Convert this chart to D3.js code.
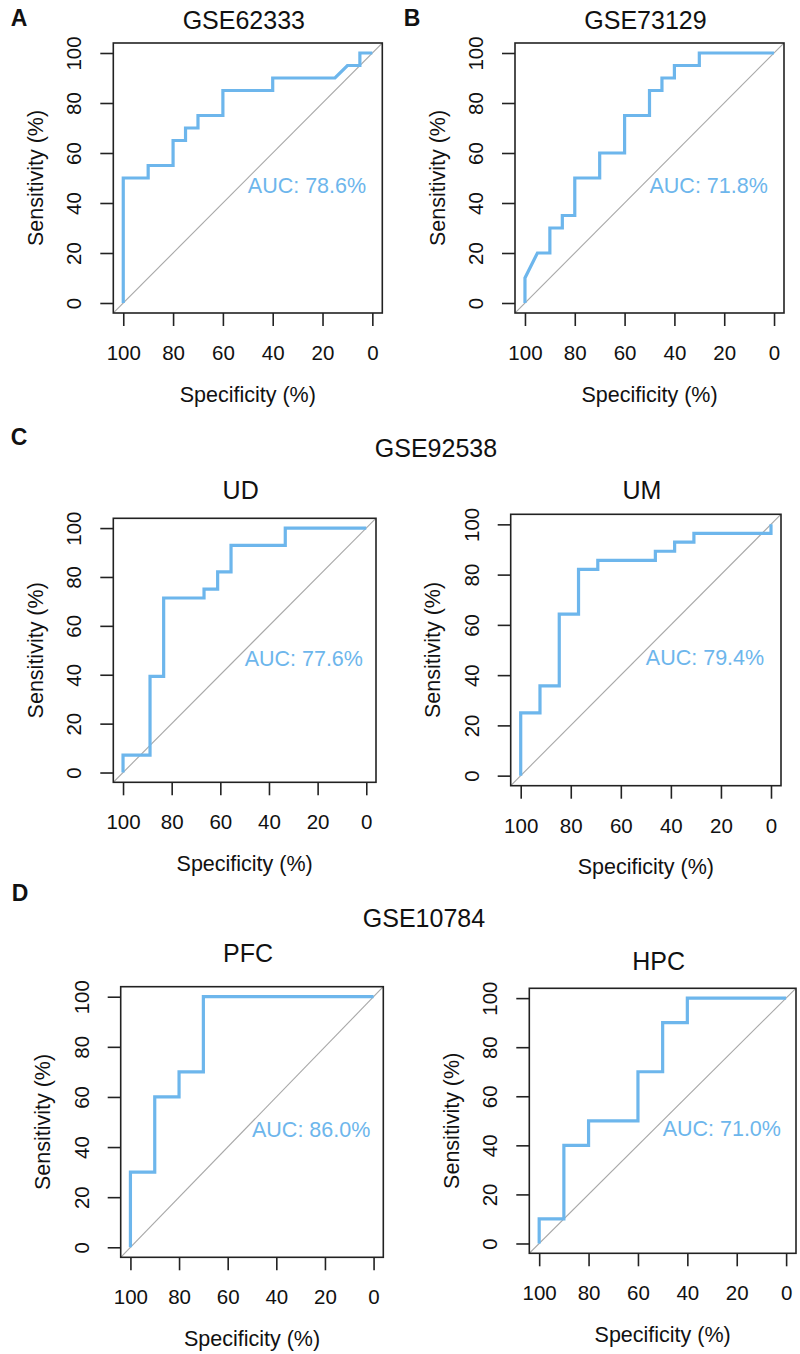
<!DOCTYPE html>
<html>
<head>
<meta charset="utf-8">
<script src="https://cdn.jsdelivr.net/npm/d3@7"></script>
<style>
  html, body { margin: 0; padding: 0; background: #ffffff; }
  svg { display: block; }
  text { font-family: "Liberation Sans", Arial, Helvetica, sans-serif; fill: #111; }
</style>
</head>
<body>
<svg id="chart" width="800" height="1354"></svg>
<script>
// ---------------- data ----------------
const panelTitles = ["GSE62333", "GSE73129", "UD", "UM", "PFC", "HPC"];
const panelLetters = ["A", "B", "C", "D"];
const groupTitles = ["GSE92538", "GSE10784"];
const aucLabels = ["AUC: 78.6%", "AUC: 71.8%", "AUC: 77.6%", "AUC: 79.4%", "AUC: 86.0%", "AUC: 71.0%"];
const xTicks = [100, 80, 60, 40, 20, 0];
const yTicks = [0, 20, 40, 60, 80, 100];
const xLabel = "Specificity (%)";
const yLabel = "Sensitivity (%)";

// ROC points: [specificity, sensitivity]
const rocGSE62333 = [[100,0],[100,50],[90,50],[90,55],[80,55],[80,65],[75,65],[75,70],[70,70],[70,75],[60,75],[60,85],[40,85],[40,90],[15,90],[10,95],[5,95],[5,100],[0,100]];
const rocGSE73129 = [[100,0],[100,10],[95,20],[90,20],[90,30],[85,30],[85,35],[80,35],[80,50],[70,50],[70,60],[60,60],[60,75],[50,75],[50,85],[45,85],[45,90],[40,90],[40,95],[30,95],[30,100],[0,100]];
const rocUD = [[100,0],[100,7.1],[88.9,7.1],[88.9,39.3],[83.3,39.3],[83.3,71.4],[66.7,71.4],[66.7,75],[61.1,75],[61.1,82.1],[55.6,82.1],[55.6,92.9],[33.3,92.9],[33.3,100],[0,100]];
const rocUM = [[100,0],[100,25],[92.3,25],[92.3,35.7],[84.6,35.7],[84.6,64.3],[76.9,64.3],[76.9,82.1],[69.2,82.1],[69.2,85.7],[46.2,85.7],[46.2,89.3],[38.5,89.3],[38.5,92.9],[30.8,92.9],[30.8,96.4],[0,96.4],[0,100]];
const rocPFC = [[100,0],[100,30],[90,30],[90,60],[80,60],[80,70],[70,70],[70,100],[0,100]];
const rocHPC = [[100,0],[100,10],[90,10],[90,40],[80,40],[80,50],[60,50],[60,70],[50,70],[50,90],[40,90],[40,100],[0,100]];
const rocSeries = [rocGSE62333, rocGSE73129, rocUD, rocUM, rocPFC, rocHPC];

// ---------------- layout (pixels) ----------------
const layout = [
  {x0:113.3, x1:382.3, y0:43,    y1:313,    titleY:20},
  {x0:515,   x1:784,   y0:43,    y1:313,    titleY:20},
  {x0:113.3, x1:376,   y0:518.3, y1:782.3,  titleY:490},
  {x0:510.7, x1:781,   y0:514.3, y1:785.7,  titleY:490},
  {x0:120.7, x1:383.3, y0:986.7, y1:1257.3, titleY:953},
  {x0:529.3, x1:796,   y0:988.3, y1:1253.3, titleY:961}
];
const letterPos = [[19,18],[412,18],[19,437],[20,893]];
const groupPos = [[436,448],[424,918]];

const lineColor = "#6db6ec";
const svg = d3.select("#chart");

layout.forEach((L, i) => {
  const x = d3.scaleLinear().domain([104, -4]).range([L.x0, L.x1]);
  const y = d3.scaleLinear().domain([-4, 104]).range([L.y1, L.y0]);
  const g = svg.append("g");
  const clipId = "clip" + i;
  svg.append("clipPath").attr("id", clipId).append("rect")
    .attr("x", L.x0).attr("y", L.y0).attr("width", L.x1 - L.x0).attr("height", L.y1 - L.y0);

  // diagonal reference
  g.append("line")
    .attr("clip-path", `url(#${clipId})`)
    .attr("x1", x(104)).attr("y1", y(-4)).attr("x2", x(-4)).attr("y2", y(104))
    .attr("stroke", "#a8a8a8").attr("stroke-width", 1.1);

  // ROC curve
  const line = d3.line().x(d => x(d[0])).y(d => y(d[1]));
  g.append("path").datum(rocSeries[i])
    .attr("d", line)
    .attr("fill", "none").attr("stroke", lineColor)
    .attr("stroke-width", 3.2).attr("stroke-linejoin", "miter").attr("stroke-linecap", "butt");

  // box
  g.append("rect")
    .attr("x", L.x0).attr("y", L.y0).attr("width", L.x1 - L.x0).attr("height", L.y1 - L.y0)
    .attr("fill", "none").attr("stroke", "#222").attr("stroke-width", 1.6);

  // x axis
  const xa = g.append("g").attr("transform", `translate(0,${L.y1})`)
    .call(d3.axisBottom(x).tickValues(xTicks).tickSize(13).tickFormat(d3.format("d")));
  xa.select(".domain").remove();
  xa.selectAll(".tick line").attr("stroke", "#222").attr("stroke-width", 1.6);
  xa.selectAll(".tick text").attr("y", 40).attr("dy", "0.35em")
    .style("font-size", "20.5px").style("fill", "#111");

  // y axis
  const ya = g.append("g").attr("transform", `translate(${L.x0},0)`)
    .call(d3.axisLeft(y).tickValues(yTicks).tickSize(13).tickFormat(d3.format("d")));
  ya.select(".domain").remove();
  ya.selectAll(".tick line").attr("stroke", "#222").attr("stroke-width", 1.6);
  ya.selectAll(".tick text")
    .attr("transform", "rotate(-90)")
    .attr("x", 0).attr("y", -39).attr("dy", "0.35em")
    .attr("text-anchor", "middle")
    .style("font-size", "20.5px").style("fill", "#111");

  // axis labels
  g.append("text").attr("x", (L.x0 + L.x1) / 2).attr("y", L.y1 + 81).attr("dy", "0.35em")
    .attr("text-anchor", "middle").style("font-size", "21.5px").text(xLabel);
  g.append("text")
    .attr("transform", `translate(${L.x0 - 78},${(L.y0 + L.y1) / 2}) rotate(-90)`)
    .attr("dy", "0.35em").attr("text-anchor", "middle").style("font-size", "21.5px").text(yLabel);

  // title
  g.append("text").attr("x", (L.x0 + L.x1) / 2 - 4).attr("y", L.titleY).attr("dy", "0.35em")
    .attr("text-anchor", "middle").style("font-size", "25px").text(panelTitles[i]);

  // AUC text (left-aligned at spec 50, top at sens 50)
  g.append("text").attr("x", x(50)).attr("y", y(50)).attr("dy", "0.72em")
    .style("font-size", "21.5px").style("fill", lineColor).text(aucLabels[i]);
});

panelLetters.forEach((t, i) => {
  svg.append("text").attr("x", letterPos[i][0]).attr("y", letterPos[i][1]).attr("dy", "0.36em")
    .attr("text-anchor", "middle").style("font-size", "23px").style("font-weight", "bold").text(t);
});
groupTitles.forEach((t, i) => {
  svg.append("text").attr("x", groupPos[i][0]).attr("y", groupPos[i][1]).attr("dy", "0.35em")
    .attr("text-anchor", "middle").style("font-size", "25px").text(t);
});
</script>
</body>
</html>
